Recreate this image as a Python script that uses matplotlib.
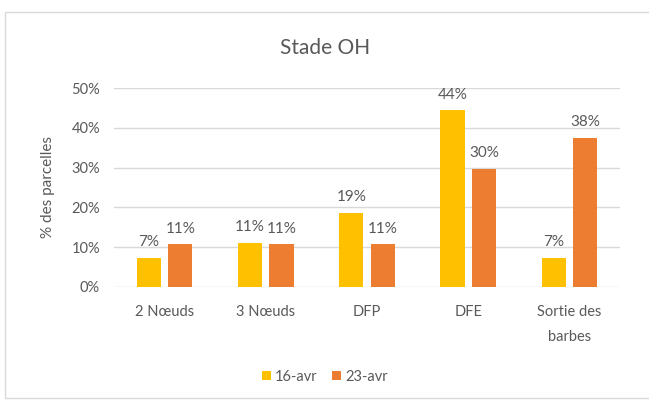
import numpy as np
import matplotlib.pyplot as plt
from matplotlib.patches import Rectangle

categories = ['2 Nœuds', '3 Nœuds', 'DFP', 'DFE', 'Sortie des\nbarbes']
serie_16avr = [7.4, 11.1, 18.6, 44.4, 7.4]
serie_23avr = [10.7, 10.7, 10.7, 29.6, 37.5]
noms_series = ['16-avr', '23-avr']

plt.rcParams['font.family'] = ['Lato', 'DejaVu Sans']
gris = '#595959'
jaune = '#FFC000'
orange = '#ED7D31'

fig = plt.figure(figsize=(6.49, 4.03), dpi=100)
fig.patches.append(Rectangle((5 / 649, 5 / 403), 1.1, 386 / 403, transform=fig.transFigure,
                             fill=False, edgecolor='#d9d9d9', linewidth=1))
ax = fig.add_axes([114 / 649, 116 / 403, 506 / 649, 199 / 403])

x = np.arange(len(categories))
w = 0.24
g = 0.07
b1 = ax.bar(x - (w + g) / 2, serie_16avr, w, color=jaune, label=noms_series[0], zorder=3)
b2 = ax.bar(x + (w + g) / 2, serie_23avr, w, color=orange, label=noms_series[1], zorder=3)

# étiquettes de données
for bars, vals in [(b1, serie_16avr), (b2, serie_23avr)]:
    for r, v in zip(bars, vals):
        ax.text(r.get_x() + r.get_width() / 2, v + 2.2, f'{v:.0f}%', ha='center', va='bottom',
                fontsize=11, color=gris)

ax.set_ylim(0, 50)
ax.set_xlim(-0.5, len(categories) - 0.5)
ax.set_yticks(range(0, 51, 10))
ax.set_yticklabels([f'{t}%' for t in range(0, 51, 10)], fontsize=10.5, color=gris)
ax.set_xticks(x)
ax.set_xticklabels(categories, fontsize=10.5, color=gris, linespacing=2.0)
ax.tick_params(axis='x', length=0, pad=13)
ax.tick_params(axis='y', length=0, pad=10)
ax.yaxis.grid(True, color='#d9d9d9', linewidth=1, zorder=0)
for s in ax.spines.values():
    s.set_visible(False)
ax.set_ylabel('% des parcelles', fontsize=11, color=gris, labelpad=12)

fig.text(325 / 649, 1 - 48 / 403, 'Stade OH', ha='center', va='center', fontsize=15, color=gris)
fig.legend(loc='center', bbox_to_anchor=(325 / 649, 1 - 377 / 403), ncol=2, frameon=False,
           fontsize=10.5, handlelength=0.6, handleheight=0.6, handletextpad=0.3,
           columnspacing=1.0, labelcolor=gris)

fig.savefig('out.png', dpi=100)
